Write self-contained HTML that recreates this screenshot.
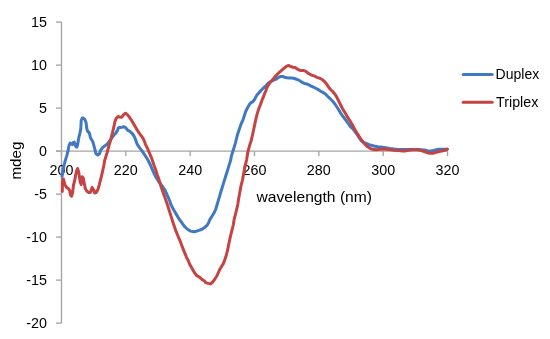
<!DOCTYPE html>
<html><head><meta charset="utf-8"><style>
html,body{margin:0;padding:0;background:#fff;}
body{width:550px;height:339px;overflow:hidden;}
svg{display:block;}
#w{will-change:transform;width:550px;height:339px;background:#fff;}
text{font-family:"Liberation Sans",sans-serif;fill:#000;}
.t{font-size:14.3px;}
.a{font-size:14.5px;}
.l{font-size:14.6px;}
</style></head><body>
<div id="w"><svg width="550" height="339" viewBox="0 0 550 339">
<path d="M61.5,22.1 V323.1" stroke="#a4a4a4" stroke-width="1.35" fill="none"/>
<path d="M56,151.1 H447.5" stroke="#a4a4a4" stroke-width="1.35" fill="none"/>
<path d="M56,22.1 H61.5" stroke="#a4a4a4" stroke-width="1.35"/>
<text x="47.0" y="26.7" text-anchor="end" class="t">15</text>
<path d="M56,65.1 H61.5" stroke="#a4a4a4" stroke-width="1.35"/>
<text x="47.0" y="69.7" text-anchor="end" class="t">10</text>
<path d="M56,108.1 H61.5" stroke="#a4a4a4" stroke-width="1.35"/>
<text x="47.0" y="112.7" text-anchor="end" class="t">5</text>
<path d="M56,151.1 H61.5" stroke="#a4a4a4" stroke-width="1.35"/>
<text x="47.0" y="155.7" text-anchor="end" class="t">0</text>
<path d="M56,194.1 H61.5" stroke="#a4a4a4" stroke-width="1.35"/>
<text x="47.0" y="198.7" text-anchor="end" class="t">-5</text>
<path d="M56,237.1 H61.5" stroke="#a4a4a4" stroke-width="1.35"/>
<text x="47.0" y="241.7" text-anchor="end" class="t">-10</text>
<path d="M56,280.1 H61.5" stroke="#a4a4a4" stroke-width="1.35"/>
<text x="47.0" y="284.7" text-anchor="end" class="t">-15</text>
<path d="M56,323.1 H61.5" stroke="#a4a4a4" stroke-width="1.35"/>
<text x="47.0" y="327.7" text-anchor="end" class="t">-20</text>
<path d="M61.5,151.1 V156.1" stroke="#a4a4a4" stroke-width="1.35"/>
<text x="61.5" y="175.3" text-anchor="middle" class="t">200</text>
<path d="M125.83333333333333,151.1 V156.1" stroke="#a4a4a4" stroke-width="1.35"/>
<text x="125.8" y="175.3" text-anchor="middle" class="t">220</text>
<path d="M190.16666666666666,151.1 V156.1" stroke="#a4a4a4" stroke-width="1.35"/>
<text x="190.2" y="175.3" text-anchor="middle" class="t">240</text>
<path d="M254.5,151.1 V156.1" stroke="#a4a4a4" stroke-width="1.35"/>
<text x="254.5" y="175.3" text-anchor="middle" class="t">260</text>
<path d="M318.8333333333333,151.1 V156.1" stroke="#a4a4a4" stroke-width="1.35"/>
<text x="318.8" y="175.3" text-anchor="middle" class="t">280</text>
<path d="M383.1666666666667,151.1 V156.1" stroke="#a4a4a4" stroke-width="1.35"/>
<text x="383.2" y="175.3" text-anchor="middle" class="t">300</text>
<path d="M447.5,151.1 V156.1" stroke="#a4a4a4" stroke-width="1.35"/>
<text x="447.5" y="175.3" text-anchor="middle" class="t">320</text>
<path d="M62.1,176.3 L63.3,168.6 L65.0,161.5 L66.8,155.6 L68.0,150.9 L69.0,145.5 L70.1,143.1 L71.2,143.8 L72.3,144.6 L73.1,142.7 L74.2,142.0 L74.9,143.8 L76.0,146.8 L76.8,147.1 L77.5,145.3 L78.2,141.2 L79.0,136.8 L80.1,132.4 L80.8,128.7 L81.2,120.5 L82.2,118.0 L83.3,118.0 L84.6,119.2 L86.0,122.3 L86.8,128.5 L87.7,131.6 L89.0,132.4 L89.7,134.2 L90.4,137.5 L91.5,139.6 L92.5,141.0 L93.3,143.3 L94.7,148.6 L96.0,153.8 L97.8,155.0 L99.5,153.8 L100.8,149.9 L102.6,147.7 L104.8,145.9 L107.0,144.2 L109.3,141.5 L111.5,138.4 L113.7,135.3 L115.5,133.5 L117.2,130.9 L118.2,128.2 L119.8,127.4 L122.1,127.3 L124.2,126.8 L126.0,128.0 L127.5,130.2 L129.8,131.4 L132.2,133.5 L134.0,136.0 L135.4,139.2 L137.1,144.1 L139.5,147.7 L141.8,150.7 L144.2,154.2 L146.6,157.8 L148.2,160.5 L150.4,165.0 L152.4,169.7 L154.5,174.5 L157.2,179.2 L159.6,182.8 L162.5,186.5 L165.1,190.3 L167.5,195.7 L169.8,201.0 L171.0,204.8 L173.9,210.3 L176.8,215.1 L179.2,219.2 L181.6,222.2 L183.2,224.8 L185.0,227.0 L187.8,229.5 L190.7,231.1 L193.7,231.7 L196.6,231.2 L199.6,230.2 L201.5,229.5 L203.9,228.0 L206.8,225.6 L208.6,222.7 L210.1,219.1 L212.0,216.2 L213.8,213.3 L215.6,209.7 L217.0,205.0 L218.8,198.9 L220.9,191.8 L222.7,185.9 L224.5,180.0 L227.1,171.8 L228.9,165.9 L230.7,160.0 L231.5,155.6 L233.4,149.7 L235.6,142.4 L237.4,135.0 L239.5,128.5 L241.5,123.0 L243.2,119.4 L244.3,115.7 L245.8,111.2 L247.7,107.5 L249.4,104.5 L250.9,102.7 L252.7,101.8 L254.4,99.7 L255.9,96.8 L257.4,94.4 L259.2,92.4 L260.9,90.6 L262.7,88.8 L264.5,87.0 L266.2,85.6 L267.5,83.8 L270.4,81.6 L273.4,80.2 L276.3,79.0 L278.1,77.6 L280.3,76.6 L282.5,76.5 L284.8,77.2 L287.0,77.8 L289.2,77.9 L291.4,78.1 L293.6,78.3 L295.8,79.0 L298.0,79.8 L300.2,81.0 L302.2,82.4 L304.4,83.4 L306.6,83.8 L308.8,84.8 L311.1,86.1 L313.3,87.0 L315.3,88.0 L317.8,89.4 L320.4,91.0 L323.2,92.6 L325.5,94.0 L326.8,95.5 L329.8,98.3 L332.7,101.2 L335.7,105.2 L338.2,109.0 L340.6,113.1 L343.3,116.8 L345.8,120.1 L348.2,123.5 L350.2,126.4 L352.6,128.5 L354.3,130.6 L356.4,133.5 L358.3,136.4 L360.0,139.0 L361.6,141.0 L363.3,142.3 L366.2,143.5 L369.2,144.6 L372.1,145.5 L375.1,146.3 L378.0,146.8 L381.0,147.1 L383.9,147.5 L386.9,147.9 L389.9,148.5 L394.0,149.1 L398.3,149.5 L404.2,149.6 L410.0,149.4 L418.0,149.6 L424.2,149.9 L427.3,150.8 L430.4,151.1 L433.5,150.5 L436.6,149.6 L439.7,149.3 L442.8,149.3 L447.3,149.2" stroke="#4079C2" stroke-width="3.0" fill="none" stroke-linejoin="round" stroke-linecap="round"/>
<path d="M62.3,191.5 L62.4,185.0 L62.8,179.0 L63.5,179.0 L64.8,184.5 L66.6,187.5 L68.4,188.6 L69.7,190.6 L70.6,195.2 L71.6,196.2 L72.6,192.5 L73.5,185.0 L74.6,181.0 L75.5,176.0 L76.4,171.5 L77.6,168.5 L78.7,172.2 L80.2,182.0 L81.2,184.5 L82.3,176.8 L83.3,178.4 L84.3,183.6 L85.4,188.8 L86.9,191.3 L89.0,192.6 L90.5,192.2 L92.1,187.5 L93.6,189.8 L94.7,193.0 L96.2,192.6 L97.8,189.8 L99.3,184.6 L100.9,178.4 L102.4,172.2 L103.8,165.5 L104.8,160.0 L107.0,153.0 L108.9,145.9 L110.5,140.6 L111.8,135.3 L113.0,130.5 L113.8,127.2 L114.8,122.0 L116.2,118.3 L118.1,116.5 L119.9,117.2 L121.8,117.2 L123.6,114.6 L125.5,113.2 L127.3,114.6 L129.5,117.2 L131.3,120.0 L133.4,123.6 L135.2,126.5 L136.9,129.5 L138.7,132.4 L140.5,134.8 L142.3,137.2 L143.7,139.5 L145.4,144.1 L147.5,148.3 L148.9,151.8 L150.4,155.4 L151.9,158.9 L153.9,165.0 L155.7,169.7 L157.2,174.5 L158.9,179.2 L160.4,184.5 L162.7,191.5 L165.1,198.0 L167.5,205.0 L170.3,213.9 L173.5,224.0 L175.9,230.9 L178.3,236.8 L180.4,241.6 L181.6,245.0 L183.9,250.9 L186.3,256.8 L188.4,261.0 L189.8,264.5 L192.1,268.6 L194.5,272.7 L196.9,275.7 L199.8,277.4 L202.5,279.8 L204.5,281.0 L205.6,282.6 L208.3,283.4 L210.6,283.9 L212.4,282.3 L214.9,279.0 L217.0,275.7 L219.5,270.0 L221.5,266.5 L223.2,263.9 L225.0,259.2 L226.5,254.5 L227.7,249.7 L228.6,245.0 L229.8,239.2 L230.9,234.5 L232.1,229.7 L233.3,225.0 L234.2,219.2 L235.4,214.5 L236.6,209.7 L237.7,205.0 L238.6,198.9 L239.9,191.8 L241.0,185.9 L242.5,180.0 L244.0,171.8 L245.1,165.9 L246.6,160.0 L247.7,152.7 L249.2,146.8 L251.1,140.9 L252.5,135.0 L254.0,128.0 L255.8,119.4 L256.9,114.9 L258.4,109.8 L260.2,105.3 L261.6,101.2 L263.2,97.4 L264.4,94.1 L265.8,91.0 L266.6,88.2 L268.6,84.5 L270.8,81.9 L273.0,79.2 L275.2,76.4 L277.4,74.2 L279.6,72.2 L281.8,70.2 L284.0,68.3 L286.2,66.5 L288.5,65.4 L290.7,66.5 L292.9,67.2 L295.1,67.6 L297.3,69.1 L299.5,70.2 L301.7,70.5 L303.9,70.6 L305.5,71.1 L307.1,72.4 L308.8,73.7 L311.5,75.1 L314.2,75.9 L316.8,77.3 L319.5,78.2 L322.1,79.5 L324.3,81.3 L326.5,83.9 L328.8,87.3 L330.5,89.5 L332.7,91.5 L335.7,95.3 L338.1,99.8 L340.4,104.5 L342.5,108.7 L345.3,113.1 L347.5,117.2 L349.8,120.5 L352.2,124.5 L354.4,128.7 L356.6,132.4 L358.9,136.1 L361.1,139.4 L363.3,142.3 L365.5,144.9 L367.7,146.8 L370.7,148.6 L373.6,149.6 L376.6,149.7 L379.5,149.3 L382.5,149.0 L385.4,149.2 L389.4,149.4 L393.9,150.2 L398.3,150.5 L402.7,150.9 L405.7,150.9 L408.6,150.2 L413.0,149.8 L417.5,149.8 L421.5,150.5 L424.2,151.5 L427.3,152.7 L430.4,153.3 L432.9,153.3 L436.0,152.4 L439.1,151.5 L442.8,150.8 L445.2,150.2 L447.3,149.2" stroke="#C54342" stroke-width="3.0" fill="none" stroke-linejoin="round" stroke-linecap="round"/>
<text x="256.5" y="202.4" class="a" textLength="115.5" lengthAdjust="spacingAndGlyphs">wavelength (nm)</text>
<text transform="translate(20.7,179.6) rotate(-90)" x="0" y="0" class="a" textLength="38" lengthAdjust="spacingAndGlyphs">mdeg</text>
<path d="M463.2,74.5 H492.2" stroke="#4079C2" stroke-width="3" stroke-linecap="round"/>
<path d="M463.2,102.3 H492.2" stroke="#C54342" stroke-width="3" stroke-linecap="round"/>
<text x="495.6" y="79.3" class="l" textLength="43.6" lengthAdjust="spacingAndGlyphs">Duplex</text>
<text x="496.1" y="106.9" class="l" textLength="42.2" lengthAdjust="spacingAndGlyphs">Triplex</text>
</svg></div>
</body></html>
